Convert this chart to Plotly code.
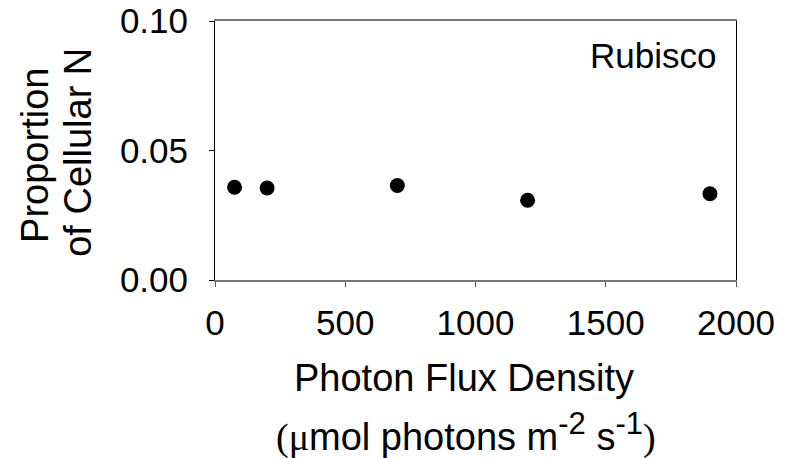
import plotly.graph_objects as go

# Data
ppfd = [75, 200, 700, 1200, 1900]
prop_n = [0.0358, 0.0355, 0.0365, 0.0308, 0.0333]
x_ticks = [0, 500, 1000, 1500, 2000]
y_ticks = [0.0, 0.05, 0.10]
label = "Rubisco"

SANS = "Liberation Sans, Arial, sans-serif"
SERIF = "Liberation Serif, Times New Roman, serif"

fig = go.Figure()
fig.add_trace(go.Scatter(
    x=ppfd, y=prop_n, mode="markers",
    marker=dict(color="black", size=15, line=dict(width=0)),
    showlegend=False, hoverinfo="skip",
))

fig.update_layout(
    width=789, height=458,
    margin=dict(l=215, r=53, t=21, b=178, autoexpand=False),
    paper_bgcolor="white", plot_bgcolor="white",
    font=dict(family=SANS, size=35, color="black"),
)

fig.update_xaxes(
    range=[0, 2000], tickvals=x_ticks, ticktext=[str(v) for v in x_ticks],
    showgrid=False, zeroline=False, automargin=False,
    showline=True, linecolor="#777777", linewidth=1.5, mirror=True,
    ticks="outside", ticklen=5, tickcolor="#555555", tickwidth=1,
    tickfont=dict(size=35, family=SANS), ticklabelstandoff=6,
)
fig.update_yaxes(
    range=[0, 0.10], tickvals=y_ticks, tickformat=".2f",
    showgrid=False, zeroline=False, automargin=False,
    showline=True, linecolor="black", linewidth=1, mirror=True,
    ticks="outside", ticklen=5, tickcolor="black", tickwidth=1,
    tickfont=dict(size=35, family=SANS), ticklabelstandoff=14,
)

# Panel label
fig.add_annotation(
    text=label, xref="paper", yref="paper", x=0.966, y=0.868,
    xanchor="right", yanchor="middle", showarrow=False,
    font=dict(size=35, family=SANS, color="black"),
)

# y-axis title (two lines)
fig.add_annotation(
    text="Proportion", xref="paper", yref="paper", x=-0.347, y=0.48,
    xanchor="center", yanchor="middle", textangle=-90, showarrow=False,
    font=dict(size=38, family=SANS, color="black"),
)
fig.add_annotation(
    text="of Cellular N", xref="paper", yref="paper", x=-0.263, y=0.495,
    xanchor="center", yanchor="middle", textangle=-90, showarrow=False,
    font=dict(size=38, family=SANS, color="black"),
)

# x-axis title (two lines)
fig.add_annotation(
    text="Photon Flux Density", xref="paper", yref="paper", x=0.478, y=-0.29,
    xanchor="center", yanchor="top", showarrow=False,
    font=dict(size=38, family=SANS, color="black"),
)
fig.add_annotation(
    text=(f"<span style='font-family:{SERIF}'>(\u03bc</span>mol photons m"
          "<sup><span style='font-size:31px'>-2</span></sup> s"
          "<sup><span style='font-size:31px'>-1</span></sup>"
          f"<span style='font-family:{SERIF}'>)</span>"),
    xref="paper", yref="paper", x=0.482, y=-0.48,
    xanchor="center", yanchor="top", showarrow=False,
    font=dict(size=38, family=SANS, color="black"),
)

fig.write_html("out.html")
